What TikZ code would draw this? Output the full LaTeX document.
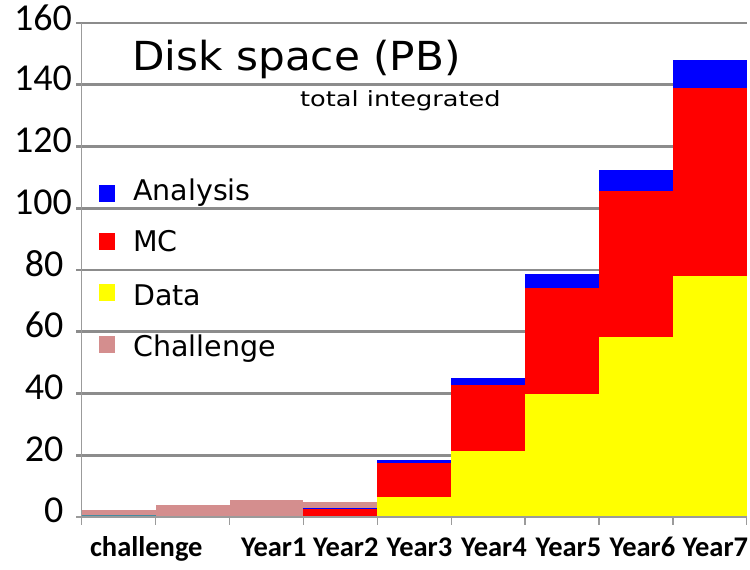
\documentclass[tikz,border=0pt]{standalone}
\usepackage{fontspec}
\usepackage{graphicx}
\setmainfont{Carlito}
\newfontfamily\comic{DejaVu Sans}
\definecolor{chal}{RGB}{212,142,142}
\definecolor{gridc}{RGB}{140,140,140}
\definecolor{axisc}{RGB}{155,155,155}
\definecolor{tealc}{RGB}{70,140,160}
\definecolor{anac}{RGB}{0,0,255}
\definecolor{mcc}{RGB}{255,0,0}
\definecolor{datac}{RGB}{255,255,0}
\tikzset{
  gridline/.style={draw=gridc, line width=2.8pt},
  axisline/.style={draw=axisc, line width=1.3pt},
  ylab/.style={anchor=base east, inner sep=0pt, font=\fontsize{38}{38}\selectfont},
  xlab/.style={anchor=base, inner sep=0pt, font=\bfseries\fontsize{28.5}{28.5}\selectfont},
  legtext/.style={anchor=base west, inner sep=0pt, font=\comic\fontsize{28.5}{28.5}\selectfont},
  legbox/.style={minimum width=16pt, minimum height=17pt, inner sep=0pt, anchor=north west},
}
\begin{document}
\begin{tikzpicture}[x=1pt,y=-1pt]
\useasboundingbox (0,0) rectangle (750,570);
\fill[white] (0,0) rectangle (750,570);
% gridlines
\foreach \v in {20,40,...,160}{
  \draw[gridline] (76,{517-3.0875*\v}) -- (746.8,{517-3.0875*\v});
}
% bars
% cat0 challenge
\fill[chal] (81.7,517) rectangle (155.6,510);
\draw[tealc, line width=1.5pt] (81.7,516) -- (155.6,516);
% cat1
\fill[chal] (155.6,517) rectangle (229.5,505);
% cat2 Year1
\fill[chal] (229.5,517) rectangle (303.4,500);
% cat3 Year2
\fill[mcc] (303.4,517) rectangle (377.3,508.3);
\fill[anac] (303.4,508.3) rectangle (377.3,507.5);
\fill[chal] (303.4,507.5) rectangle (377.3,502.3);
% cat4 Year3
\fill[datac] (377.3,517) rectangle (451.2,496.7);
\fill[mcc] (377.3,496.7) rectangle (451.2,463.3);
\fill[anac] (377.3,463.3) rectangle (451.2,460);
% cat5 Year4
\fill[datac] (451.2,517) rectangle (525.1,451);
\fill[mcc] (451.2,451) rectangle (525.1,385);
\fill[anac] (451.2,385) rectangle (525.1,377.7);
% cat6 Year5
\fill[datac] (525.1,517) rectangle (599.0,394);
\fill[mcc] (525.1,394) rectangle (599.0,288.3);
\fill[anac] (525.1,288.3) rectangle (599.0,274);
% cat7 Year6
\fill[datac] (599.0,517) rectangle (672.9,336.5);
\fill[mcc] (599.0,336.5) rectangle (672.9,190.7);
\fill[anac] (599.0,190.7) rectangle (672.9,170);
% cat8 Year7
\fill[datac] (672.9,517) rectangle (746.8,276);
\fill[mcc] (672.9,276) rectangle (746.8,88.3);
\fill[anac] (672.9,88.3) rectangle (746.8,60);
% axes
\draw[axisline] (81.7,23) -- (81.7,525);
\draw[axisline] (76,517) -- (746.8,517);
\foreach \x in {155.6,229.5,303.4,377.3,451.2,525.1,599.0,672.9,746.8}{
  \draw[axisline] (\x,517) -- (\x,525);
}
% y labels
\node[ylab] (y0) at (63.5,{517+5}) {0};
\node[ylab] (y20) at (63.5,{517-3.0875*20+6}) {20};
\node[ylab] (y40) at (63.5,{517-3.0875*40+6}) {40};
\node[ylab] (y60) at (63.5,{517-3.0875*60+6}) {60};
\node[ylab] (y80) at (63.5,{517-3.0875*80+6}) {80};
\node[ylab] (y100) at (72,{517-3.0875*100+6}) {100};
\node[ylab] (y120) at (72,{517-3.0875*120+6}) {120};
\node[ylab] (y140) at (72,{517-3.0875*140+6}) {140};
\node[ylab] (y160) at (72,{517-3.0875*160+7}) {160};
% x labels
\node[xlab] (xc) at (146.3,556.7) {challenge};
\node[xlab] (x1) at (273.8,556.7) {Year1};
\node[xlab] (x2) at (345.8,556.7) {Year2};
\node[xlab] (x3) at (419.5,556.7) {Year3};
\node[xlab] (x4) at (494,556.7) {Year4};
\node[xlab] (x5) at (568.5,556.7) {Year5};
\node[xlab] (x6) at (642.5,556.7) {Year6};
\node[xlab] (x7) at (715.3,556.7) {Year7};
% title
\node[anchor=base west, inner sep=0pt, font=\comic\fontsize{40}{40}\selectfont] (title) at (132,70) {\scalebox{1.055}[1]{Disk space (PB)}};
\node[anchor=base west, inner sep=0pt, font=\comic\fontsize{21}{21}\selectfont] (sub) at (300,106) {\scalebox{1.22}[1]{total integrated}};
% legend
\node[legbox, fill=anac] (lb1) at (99,184.5) {};
\node[legbox, fill=mcc] (lb2) at (99,232.5) {};
\node[legbox, fill=datac] (lb3) at (99,284) {};
\node[legbox, fill=chal] (lb4) at (99,336) {};
\node[legtext] (lt1) at (133,200) {Analysis};
\node[legtext] (lt2) at (133,251.5) {MC};
\node[legtext] (lt3) at (133,305.5) {Data};
\node[legtext] (lt4) at (133,356.5) {Challenge};
\end{tikzpicture}
\end{document}
